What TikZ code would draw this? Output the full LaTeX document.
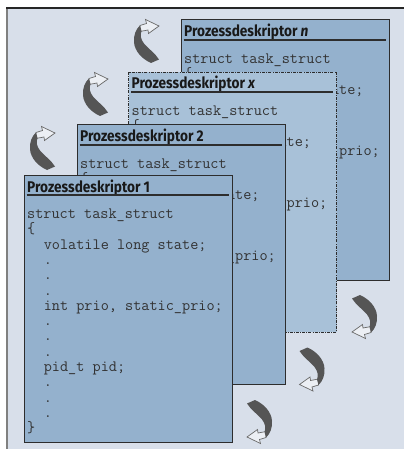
\documentclass[tikz,border=0pt]{standalone}
\usepackage{fontspec}
\newfontfamily\titlefont[FakeStretch=0.88]{Fira Sans}

\definecolor{panelbg}{RGB}{216,223,234}
\definecolor{cardfill}{RGB}{148,177,205}
\definecolor{cardfilllight}{RGB}{168,193,216}
\definecolor{cardline}{RGB}{45,45,45}
\definecolor{codeink}{RGB}{50,50,50}
\definecolor{hookgrey}{RGB}{85,85,85}
\definecolor{hookedge}{RGB}{105,105,105}
\definecolor{hookfill}{RGB}{236,239,244}

\tikzset{
  card/.style={draw=cardline, line width=1pt, fill=cardfill, inner sep=0pt,
    outer sep=0pt, minimum width=208pt, anchor=north west},
  cardx/.style={card, fill=cardfilllight, line width=0.8pt,
    dash pattern=on 3pt off 1.2pt on 0.8pt off 1.2pt},
  cardtitle/.style={font=\titlefont\bfseries\fontsize{15.5}{18}\selectfont,
    text=black!90, inner sep=0pt, anchor=base west},
  titlerule/.style={draw=cardline, line width=1.1pt},
  codeline/.style={font=\ttfamily\fontsize{15.8}{18}\selectfont, text=codeink,
    inner sep=0pt, anchor=base west},
  hookbody/.style={fill=hookgrey},
  hookhead/.style={draw=hookedge, fill=hookfill, line width=0.7pt, line join=miter},
}

% one piece of code in a card: node name, card, line number, column, text
\newcommand\codeat[5]{%
  \node[codeline] (#1) at ([xshift={3pt+#4*8.295pt},yshift={-43.5pt-(#3-1)*15.3pt}]#2.north west) {#5};
}

% card frame with its title, the rule under it and the listing:
% name, style, left, top, height, title
\newcommand\descriptorcard[6]{%
  \node[#2, minimum height=#5pt] (#1) at (#3,#4) {};
  \node[cardtitle] (#1-title) at ([xshift=3pt,yshift=-17pt]#1.north west) {#6};
  \draw[titlerule] ([xshift=2.5pt,yshift=-20pt]#1.north west)
    -- ([xshift=-3.5pt,yshift=-20pt]#1.north east);
  \codeat{#1-l1}{#1}{1}{0}{struct task\_struct}
  \codeat{#1-l2}{#1}{2}{0}{\{}
  \codeat{#1-l3}{#1}{3}{2}{volatile long state;}
  \codeat{#1-l4}{#1}{4}{2}{.}
  \codeat{#1-l5}{#1}{5}{2}{.}
  \codeat{#1-l6}{#1}{6}{2}{.}
  \codeat{#1-l7}{#1}{7}{2}{int prio, static\_prio;}
  \codeat{#1-l8}{#1}{8}{2}{.}
  \codeat{#1-l9}{#1}{9}{2}{.}
  \codeat{#1-l10}{#1}{10}{2}{.}
  \codeat{#1-l11}{#1}{11}{2}{pid\_t pid;}
  \codeat{#1-l12}{#1}{12}{2}{.}
  \codeat{#1-l13}{#1}{13}{2}{.}
  \codeat{#1-l14}{#1}{14}{2}{.}
  \codeat{#1-l15}{#1}{15}{0}{\}}
}

% curled arrow, drawn pointing down and back to the left
\newcommand\curlhook{%
  \path[hookhead] (19,31.5) -- (11,33) -- (10.5,29.5) -- (0,37) -- (13.5,43.5)
    -- (12.5,39.5) -- (19,37.5) -- cycle;
  \path[hookbody] (8,0) .. controls (17,4) and (24.5,12) .. (25,21)
    .. controls (25.5,28) and (23,34) .. (19,37.5) -- (17.5,32)
    .. controls (19,28) and (18.5,24) .. (15,19.5)
    .. controls (11,14.5) and (4,10) .. (0,3.5) -- cycle;
}

\begin{document}
\begin{tikzpicture}[x=1pt,y=-1pt]
  \useasboundingbox (0,0) rectangle (404,449);
  \fill[white] (0,0) rectangle (404,449);
  \fill[panelbg] (7,8) rectangle (404,449);
  \draw[gray, line width=2pt] (7,8) -- (7,449);
  \draw[black!85, line width=1.5pt] (6,8) -- (404,8);

  % cards from the back to the front
  \descriptorcard{cardn}{card}{181}{20}{260}{Prozessdeskriptor \textit{n}}
  \descriptorcard{cardx}{cardx}{128.5}{72}{260}{Prozessdeskriptor \textit{x}}
  \descriptorcard{cardtwo}{card}{77}{125}{259}{Prozessdeskriptor 2}
  \descriptorcard{cardone}{card}{24}{175}{267}{Prozessdeskriptor 1}

  % arrows beside the lower right corners
  \begin{scope}[shift={(352,295)}] \curlhook \end{scope}
  \begin{scope}[shift={(299.5,347.5)}] \curlhook \end{scope}
  \begin{scope}[shift={(247,400)}] \curlhook \end{scope}
  % arrows beside the upper left corners
  \begin{scope}[shift={(159,63)}, rotate=180] \curlhook \end{scope}
  \begin{scope}[shift={(108,116)}, rotate=180] \curlhook \end{scope}
  \begin{scope}[shift={(55,170)}, rotate=180] \curlhook \end{scope}
\end{tikzpicture}
\end{document}
